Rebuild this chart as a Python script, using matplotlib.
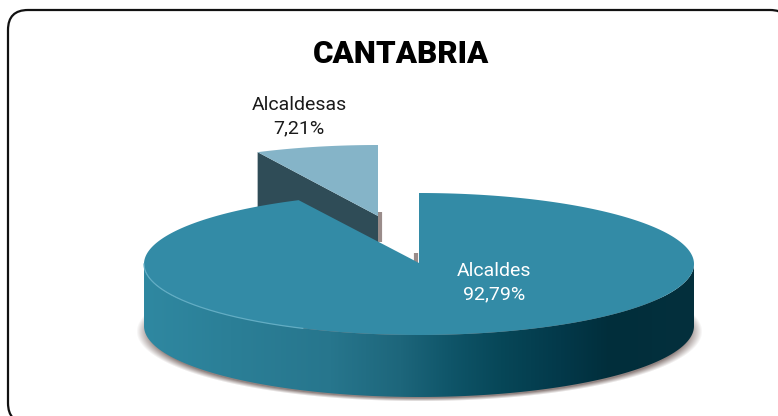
import matplotlib
matplotlib.use("Agg")
import matplotlib.pyplot as plt
import numpy as np
from matplotlib.patches import FancyBboxPatch, Polygon
from matplotlib.colors import to_rgb

plt.rcParams['font.family'] = ['Roboto', 'DejaVu Sans']

title = "CANTABRIA"
categories = ["Alcaldes", "Alcaldesas"]
values = [92.79, 7.21]
value_labels = ["92,79%", "7,21%"]

# pie geometry in image pixels
cx, cy = 419, 264
rx, ry = 275, 71
depth = 62
shift = (-41, -48)

fig = plt.figure(figsize=(7.78, 4.16), dpi=100)
ax = fig.add_axes([0, 0, 1, 1])


def arc(a0, a1, n=200, dx=0, dy=0):
    # angles in degrees, counted from the x axis, screen y goes down
    t = np.radians(np.linspace(a0, a1, n))
    return np.column_stack([cx + dx + rx * np.cos(t), cy + dy - ry * np.sin(t)])


big_sweep = 360 * values[0] / sum(values)
end_angle = 90 - big_sweep + 360  # big slice goes clockwise from 12 o'clock

# frame runs off the right and bottom of the picture
ax.add_patch(FancyBboxPatch((8, 10), 782, 413, boxstyle="round,pad=0,rounding_size=20",
                            fc="white", ec="#111111", lw=1.6, zorder=1))

# soft shadow under the pie
gx, gy = np.meshgrid(np.arange(125, 715), np.arange(290, 412))
d = np.sqrt(((gx - cx) / 283) ** 2 + ((gy - 331) / 70) ** 2)
shadow = np.zeros(gx.shape + (4,))
shadow[..., :3] = to_rgb("#7d6d6a")
shadow[..., 3] = np.clip((1.0 - d) / 0.05, 0, 1) * 0.85
ax.imshow(shadow, extent=(125, 715, 412, 290), aspect='auto', zorder=2, interpolation='bilinear')

# exploded small slice, its cut face goes behind the big slice
sx, sy = shift
apex = np.array([cx + sx, cy + sy])
small_arc = arc(end_angle, 90, 60, sx, sy)
left = small_arc[0]
ax.add_patch(Polygon([left, apex, apex + [0, depth], left + [0, depth]], fc="#2f4c57", ec="none", zorder=3))
ax.add_patch(Polygon(np.vstack([[apex], small_arc]), fc="#85b4c8", ec="none", zorder=4))
ax.plot([apex[0] + 2.5, apex[0] + 2.5], [apex[1] - 4, apex[1] + 26], color="#9a8c8a", lw=3, solid_capstyle="butt", zorder=2.5)
ax.plot([cx - 3, cx - 3], [cy - 11, cy], color="#9a8c8a", lw=3, solid_capstyle="butt", zorder=2.5)

# side wall of the big slice, shaded from left to right
wall_x = np.array([144, 230, 330, 400, 450, 500, 560, 610, 694])
wall_r = np.array(["#2f88a1", "#2b7f97", "#27768d", "#1d667b", "#0f5569", "#074758", "#03394a", "#012e3b", "#04303d"])
xs = np.arange(144, 695)
rgb = np.array([to_rgb(c) for c in wall_r])
strip = np.column_stack([np.interp(xs, wall_x, rgb[:, i]) for i in range(3)])[None, :, :]
im = ax.imshow(strip, extent=(144, 695, 400, 250), aspect='auto', zorder=5)
wall = Polygon(np.vstack([arc(180, 360), arc(360, 180, dy=depth)]), fc="none", ec="none", zorder=5)
ax.add_patch(wall)
im.set_clip_path(wall)

# top of the big slice
top = np.vstack([[[cx, cy - 1]], arc(90, 90 - big_sweep, 400)])
ax.add_patch(Polygon(top, fc="#338ba6", ec="none", zorder=6))
ax.plot(*arc(180, 245).T, color="#62adc4", lw=0.9, zorder=7)

# texts
ax.text(401, 54, title, ha="center", va="center", fontsize=22.5, fontweight="black", color="black", zorder=8)
ax.text(299, 117, categories[1] + "\n" + value_labels[1], ha="center", va="center",
        fontsize=14, color="#1a1a1a", linespacing=1.4, zorder=8)
ax.text(494, 282.5, categories[0] + "\n" + value_labels[0], ha="center", va="center",
        fontsize=14, color="white", linespacing=1.4, zorder=8)

ax.set_xlim(0, 778)
ax.set_ylim(416, 0)
ax.axis("off")
fig.savefig("out.png", dpi=100)
